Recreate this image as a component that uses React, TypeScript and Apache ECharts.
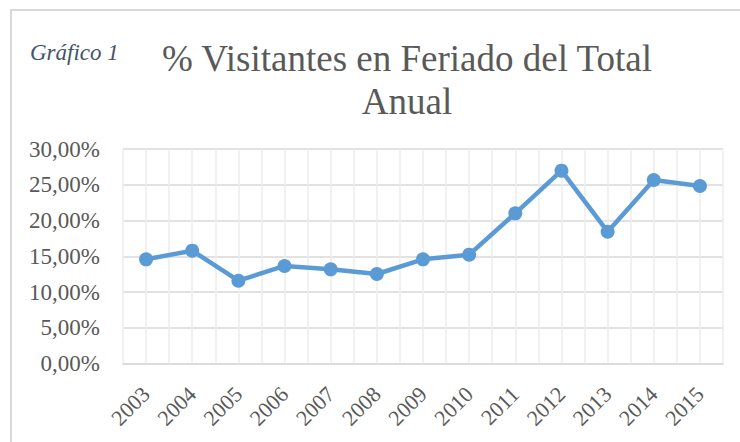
import React, { useEffect, useRef } from "react";
import * as echarts from "echarts";

const years = ["2003", "2004", "2005", "2006", "2007", "2008", "2009", "2010", "2011", "2012", "2013", "2014", "2015"];
const percentValues = [14.57, 15.78, 11.58, 13.64, 13.17, 12.52, 14.57, 15.22, 21.0, 26.97, 18.44, 25.66, 24.83];
const titleLines = ["% Visitantes en Feriado del Total", "Anual"];
const captionText = "Gráfico 1";

const SERIF = "Times New Roman";

export default function App() {
  const ref = useRef<HTMLDivElement>(null);
  useEffect(() => {
    if (!ref.current) return;
    const chart = echarts.init(ref.current, undefined, { renderer: "svg" });
    chart.setOption({
      animation: false,
      graphic: [
        {
          type: "rect",
          shape: { x: 11, y: 10, width: 760, height: 460 },
          style: { fill: "none", stroke: "#d9d9d9", lineWidth: 2 },
          silent: true,
        },
        {
          type: "text",
          x: 30,
          y: 52,
          style: {
            text: captionText,
            fontStyle: "italic",
            fontSize: 23,
            fontFamily: SERIF,
            fill: "#44546a",
            verticalAlign: "middle",
          },
        },
        {
          type: "text",
          x: 407,
          y: 58,
          style: {
            text: titleLines[0],
            fontSize: 37,
            fontFamily: SERIF,
            fill: "#595959",
            align: "center",
            verticalAlign: "middle",
          },
        },
        {
          type: "text",
          x: 407,
          y: 101,
          style: {
            text: titleLines[1],
            fontSize: 37,
            fontFamily: SERIF,
            fill: "#595959",
            align: "center",
            verticalAlign: "middle",
          },
        },
      ],
      grid: { left: 123, right: 17, top: 149, bottom: 78.5, containLabel: false },
      xAxis: [
        {
          type: "category",
          data: years,
          boundaryGap: true,
          axisLine: { show: true, lineStyle: { color: "#d9d9d9", width: 1.5 } },
          axisTick: { show: false },
          splitLine: { show: false },
          axisLabel: {
            rotate: 45,
            margin: 27,
            color: "#595959",
            fontFamily: SERIF,
            fontSize: 22,
            interval: 0,
          },
        },
        {
          type: "value",
          min: 0,
          max: years.length * 2,
          interval: 1,
          position: "bottom",
          axisLine: { show: false },
          axisTick: { show: false },
          axisLabel: { show: false },
          splitLine: { show: true, lineStyle: { color: "#ececec", width: 1.5 } },
        },
      ],
      yAxis: {
        type: "value",
        min: 0,
        max: 30,
        interval: 5,
        axisLine: { show: false },
        axisTick: { show: false },
        axisLabel: {
          margin: 23,
          color: "#595959",
          fontFamily: SERIF,
          fontSize: 23,
          formatter: (v: number) => v.toFixed(2).replace(".", ",") + "%",
        },
        splitLine: { show: true, lineStyle: { color: "#d9d9d9", width: 1.5 } },
      },
      series: [
        {
          type: "line",
          xAxisIndex: 0,
          data: percentValues,
          symbol: "circle",
          symbolSize: 14,
          lineStyle: { color: "#5b9bd5", width: 4.5 },
          itemStyle: { color: "#5b9bd5" },
          z: 5,
        },
      ],
    });
    return () => chart.dispose();
  }, []);
  return (
    <div
      ref={ref}
      style={{ position: "absolute", left: 0, top: 0, width: 740, height: 442 }}
    />
  );
}
